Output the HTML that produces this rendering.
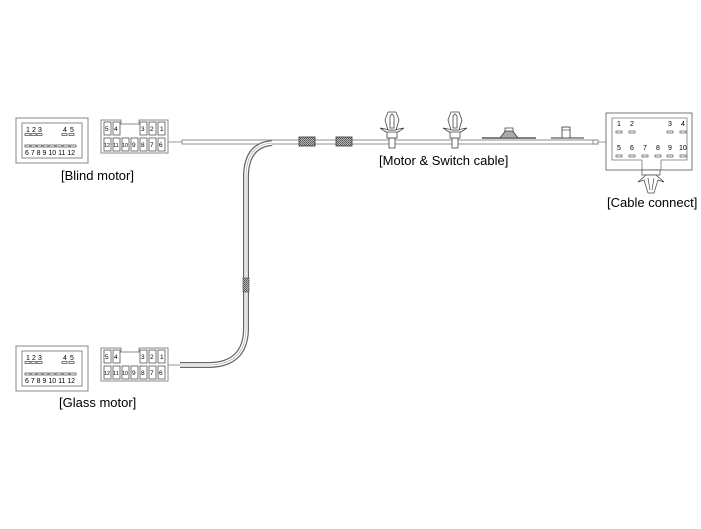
<!DOCTYPE html>
<html><head><meta charset="utf-8"><style>
html,body{margin:0;padding:0;background:#fff;}
svg{display:block;}
text{font-family:"Liberation Sans",Arial,sans-serif;fill:#000;}
</style></head><body>
<svg width="701" height="529" viewBox="0 0 701 529" xmlns="http://www.w3.org/2000/svg">
<defs>
<pattern id="h" width="2" height="2" patternUnits="userSpaceOnUse"><rect width="2" height="2" fill="#bbb"/><rect width="1" height="1" fill="#555"/><rect x="1" y="1" width="1" height="1" fill="#666"/></pattern>
<g id="motor">
<rect x="0" y="0" width="72" height="45" fill="#fff" stroke="#888" stroke-width="1"/>
<rect x="6" y="5" width="60" height="35" fill="none" stroke="#888" stroke-width="1"/>
<g font-size="7"><text x="10" y="14">1</text><text x="16" y="14">2</text><text x="22" y="14">3</text><text x="47" y="14">4</text><text x="54" y="14">5</text></g>
<g fill="none" stroke="#444" stroke-width="0.7">
<rect x="9" y="15.5" width="5" height="2"/><rect x="15" y="15.5" width="5" height="2"/><rect x="21" y="15.5" width="5" height="2"/><rect x="46" y="15.5" width="5" height="2"/><rect x="53" y="15.5" width="5" height="2"/>
<rect x="9" y="27" width="5" height="2"/><rect x="15" y="27" width="5" height="2"/><rect x="21" y="27" width="5" height="2"/><rect x="27" y="27" width="5" height="2"/><rect x="33" y="27" width="6" height="2"/><rect x="40" y="27" width="6" height="2"/><rect x="47" y="27" width="6" height="2"/><rect x="54" y="27" width="6" height="2"/>
</g>
<text x="9" y="37" font-size="7">6 7 8 9 10 11 12</text>
</g>
<g id="conn">
<path d="M0,0 H20 V4 H38 V0 H67 V33 H0 Z" fill="#fff" stroke="#888"/>
<g fill="none" stroke="#555" stroke-width="0.8">
<rect x="3" y="2" width="7" height="13"/><rect x="12" y="2" width="7" height="13"/>
<rect x="39" y="2" width="7" height="13"/><rect x="48" y="2" width="7" height="13"/><rect x="57" y="2" width="7" height="13"/>
<rect x="3" y="18" width="7" height="13"/><rect x="12" y="18" width="7" height="13"/><rect x="21" y="18" width="7" height="13"/><rect x="30" y="18" width="7" height="13"/><rect x="39" y="18" width="7" height="13"/><rect x="48" y="18" width="7" height="13"/><rect x="57" y="18" width="7" height="13"/>
</g>
<g font-size="6.5"><text x="4" y="11">5</text><text x="13" y="11">4</text><text x="40" y="11">3</text><text x="49" y="11">2</text><text x="59" y="11">1</text>
<text x="3" y="27" font-size="5.5">12</text><text x="12" y="27" font-size="5.5">11</text><text x="21" y="27" font-size="5.5">10</text><text x="31" y="27">9</text><text x="40" y="27">8</text><text x="49" y="27">7</text><text x="58" y="27">6</text></g>
</g>
<g id="clip" fill="#fff" stroke="#444" stroke-width="0.8">
<rect x="-3" y="26" width="6" height="10"/>
<rect x="-5" y="19" width="10" height="7"/>
<path d="M-12,16 L-2,18 L2,18 L12,16 L6,20 L-6,20 Z"/>
<path d="M-4,0 H4 L7,8 L4,18 H-4 L-7,8 Z"/>
<path d="M-2,4 L0,2 L2,4 V16 H-2 Z"/>
</g>
</defs>

<use href="#motor" x="16" y="118"/>
<use href="#conn" x="101" y="120"/>
<text x="61" y="180" font-size="13">[Blind motor]</text>
<use href="#motor" x="16" y="346"/>
<use href="#conn" x="101" y="348"/>
<text x="59" y="407" font-size="13">[Glass motor]</text>

<line x1="168" y1="142" x2="182" y2="142" stroke="#999"/>
<rect x="182" y="140" width="416" height="4" fill="#fff" stroke="#777" stroke-width="0.8"/>
<line x1="598" y1="142" x2="606" y2="142" stroke="#999"/>
<rect x="593" y="140" width="5" height="4" fill="#fff" stroke="#777" stroke-width="0.8"/>

<path d="M272,143 Q247,145 246,175 V330 Q245,364 210,365 H180" fill="none" stroke="#666" stroke-width="6"/>
<path d="M272,143 Q247,145 246,175 V330 Q245,364 210,365 H180" fill="none" stroke="#fff" stroke-width="3.5"/>
<path d="M272,143 Q247,145 246,175 V330 Q245,364 210,365 H180" fill="none" stroke="#999" stroke-width="0.6"/>
<line x1="168" y1="365" x2="180" y2="365" stroke="#999"/>
<rect x="243" y="278" width="6" height="14" fill="url(#h)" stroke="#444" stroke-width="0.6"/>

<rect x="299" y="137" width="16" height="9" fill="url(#h)" stroke="#333" stroke-width="0.8"/>
<rect x="336" y="137" width="16" height="9" fill="url(#h)" stroke="#333" stroke-width="0.8"/>

<use href="#clip" x="392" y="112"/>
<use href="#clip" x="455" y="112"/>
<path d="M482,138 H536" stroke="#333" stroke-width="1.2"/>
<path d="M500,138 L506,130 H512 L518,138 Z" fill="#aaa" stroke="#333" stroke-width="0.8"/>
<rect x="505" y="128" width="8" height="3" fill="#fff" stroke="#333" stroke-width="0.7"/>
<path d="M551,138 H584" stroke="#333" stroke-width="1"/>
<rect x="562" y="127" width="8" height="11" fill="#fff" stroke="#333" stroke-width="0.8"/>
<line x1="562" y1="130" x2="570" y2="130" stroke="#333" stroke-width="0.6"/>

<text x="379" y="165" font-size="13">[Motor &amp; Switch cable]</text>

<rect x="606" y="113" width="86" height="57" fill="#fff" stroke="#777"/>
<path d="M661,170 V160 H687 V118 H612 V160 H642 V170" fill="none" stroke="#777" stroke-width="0.8"/>
<g font-size="7"><text x="617" y="126">1</text><text x="630" y="126">2</text><text x="668" y="126">3</text><text x="681" y="126">4</text>
<text x="617" y="150">5</text><text x="630" y="150">6</text><text x="643" y="150">7</text><text x="656" y="150">8</text><text x="668" y="150">9</text><text x="679" y="150">10</text></g>
<g fill="none" stroke="#555" stroke-width="0.7">
<rect x="616" y="131" width="6" height="2"/><rect x="629" y="131" width="6" height="2"/><rect x="667" y="131" width="6" height="2"/><rect x="680" y="131" width="6" height="2"/>
<rect x="616" y="155" width="6" height="2"/><rect x="629" y="155" width="6" height="2"/><rect x="642" y="155" width="6" height="2"/><rect x="655" y="155" width="6" height="2"/><rect x="667" y="155" width="6" height="2"/><rect x="680" y="155" width="6" height="2"/>
</g>
<g fill="#fff" stroke="#444" stroke-width="0.7">
<rect x="642" y="170" width="18" height="5"/>
<path d="M638,182 L646,175 L656,175 L664,182 L658,180 L654,193 L648,193 L644,180 Z"/>
<line x1="648" y1="178" x2="650" y2="190"/><line x1="654" y1="178" x2="652" y2="190"/>
</g>
<text x="607" y="207" font-size="13">[Cable connect]</text>
</svg>
</body></html>
